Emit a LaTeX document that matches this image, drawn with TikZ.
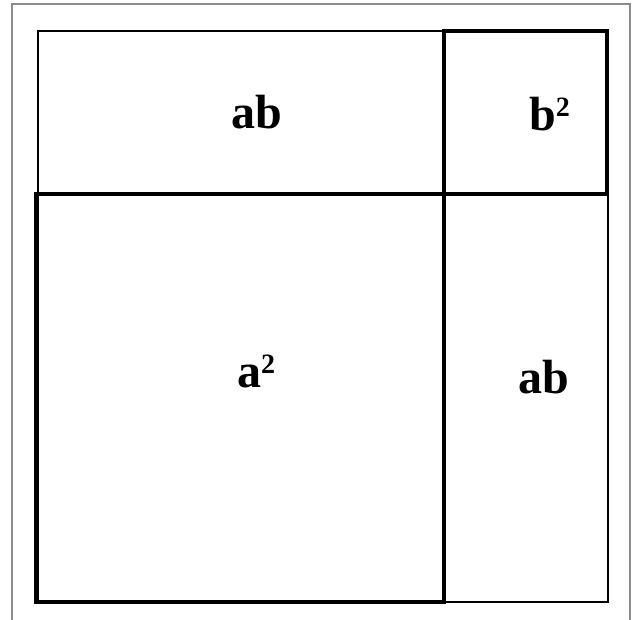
\documentclass[tikz,border=0pt]{standalone}
\usepackage{fontspec}
\setmainfont{Liberation Serif}
\newcommand{\sqsup}{\raisebox{10pt}{\fontsize{21}{21}\selectfont\bfseries 2}}
\begin{document}
\begin{tikzpicture}[x=0.75pt,y=-0.75pt,
  thinline/.style={line width=1.1pt,black},
  thickline/.style={line width=3.4pt,black,line join=miter},
  frameline/.style={line width=0.8pt,black!45},
  lbl/.style={anchor=base,inner sep=0pt,font=\fontsize{36}{40}\selectfont\bfseries}]
\useasboundingbox (0,0) rectangle (632,619);
\draw[frameline] (12,625) -- (12,4) -- (630,4) -- (630,625);
\draw[thinline] (38,31) rectangle (608,602);
\draw[thickline] (36,194) rectangle (444,602);
\draw[thickline] (444,31) rectangle (607,194);
\node[lbl] (abtop) at (257,128) {ab};
\node[lbl] (bsq) at (549.5,130) {b\sqsup};
\node[lbl] (asq) at (256,387) {a\sqsup};
\node[lbl] (abright) at (543.5,393) {ab};
\end{tikzpicture}
\end{document}
